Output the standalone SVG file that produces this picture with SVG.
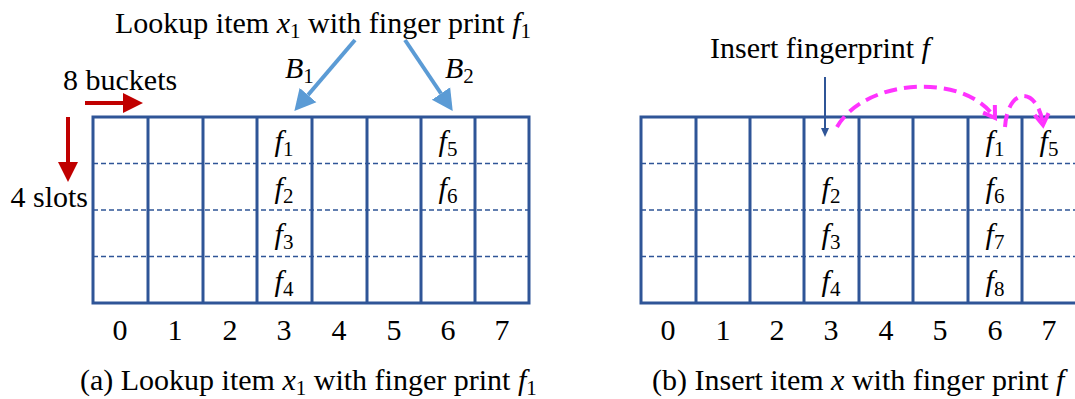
<svg xmlns="http://www.w3.org/2000/svg" width="1075" height="399" viewBox="0 0 1075 399">
<style>
  .t { font-family: "Liberation Serif", "Times New Roman", serif; font-size: 30px; fill: #000; }
  .m { font-style: italic; }
  .sub { font-size: 21px; font-style: normal; }
  .lbl { font-family: "Liberation Serif", "Times New Roman", serif; font-size: 30px; fill: #000; text-anchor: middle; }
  .grid { fill: none; stroke: #2F5597; stroke-width: 3; }
  .vl { stroke: #2F5597; stroke-width: 3; }
  .dl { stroke: #2F5597; stroke-width: 1.5; stroke-dasharray: 5 3; }
  .red { fill: #C00000; }
  .lb { stroke: #5B9BD5; stroke-width: 4; fill: none; }
  .mag { stroke: #FF33FF; stroke-width: 4; fill: none; stroke-dasharray: 13 7; }
</style>
<defs>
  <marker id="hLB" markerUnits="userSpaceOnUse" markerWidth="22" markerHeight="24" refX="0" refY="11" orient="auto" viewBox="0 0 22 22">
    <path d="M0,0 L21,11 L0,22 z" fill="#5B9BD5"/>
  </marker>
  <marker id="hMag" markerUnits="userSpaceOnUse" markerWidth="20" markerHeight="20" refX="13" refY="8" orient="auto" viewBox="0 0 20 16">
    <path d="M2,1 L13,8 L2,15" fill="none" stroke="#FF33FF" stroke-width="4" stroke-linejoin="miter"/>
  </marker>
</defs>

<!-- Titles and captions -->
<g id="title-a">
  <text class="t" x="115" y="33">Lookup item <tspan class="m">x</tspan><tspan class="sub" dy="5">1</tspan><tspan dy="-5"> with finger print </tspan><tspan class="m">f</tspan><tspan class="sub" dy="5">1</tspan></text>
</g>
<g id="title-b">
  <text class="t" x="710" y="58">Insert fingerprint <tspan class="m">f</tspan></text>
</g>
<g id="caption-a">
  <text class="t" x="80" y="390">(a) Lookup item <tspan class="m">x</tspan><tspan class="sub" dy="5">1</tspan><tspan dy="-5"> with finger print </tspan><tspan class="m">f</tspan><tspan class="sub" dy="5">1</tspan></text>
</g>
<g id="caption-b">
  <text class="t" x="652" y="390">(b) Insert item <tspan class="m">x</tspan> with finger print <tspan class="m">f</tspan></text>
</g>

<!-- Axis labels -->
<g id="buckets-label">
  <text class="t" x="63" y="90">8 buckets</text>
  <polygon class="red" points="85,101 123,101 123,93 143,103 123,113 123,105 85,105"/>
</g>
<g id="slots-label">
  <text class="t" x="88" y="207" text-anchor="end">4 slots</text>
  <polygon class="red" points="66,117 70,117 70,162 78,162 68,182 58,162 66,162"/>
</g>

<!-- Grid (a) -->
<g id="grid-a">
  <line class="dl" x1="93" y1="163.5" x2="529" y2="163.5"/>
  <line class="dl" x1="93" y1="210" x2="529" y2="210"/>
  <line class="dl" x1="93" y1="256.5" x2="529" y2="256.5"/>
  <line class="vl" x1="148" y1="117" x2="148" y2="303"/>
  <line class="vl" x1="203" y1="117" x2="203" y2="303"/>
  <line class="vl" x1="257" y1="117" x2="257" y2="303"/>
  <line class="vl" x1="312" y1="117" x2="312" y2="303"/>
  <line class="vl" x1="367" y1="117" x2="367" y2="303"/>
  <line class="vl" x1="421" y1="117" x2="421" y2="303"/>
  <line class="vl" x1="475" y1="117" x2="475" y2="303"/>
  <rect class="grid" x="93" y="117" width="436" height="186"/>
  <text class="lbl" x="284" y="151"><tspan class="m">f</tspan><tspan class="sub" dy="5">1</tspan></text>
  <text class="lbl" x="284" y="197.5"><tspan class="m">f</tspan><tspan class="sub" dy="5">2</tspan></text>
  <text class="lbl" x="284" y="244"><tspan class="m">f</tspan><tspan class="sub" dy="5">3</tspan></text>
  <text class="lbl" x="284" y="290.5"><tspan class="m">f</tspan><tspan class="sub" dy="5">4</tspan></text>
  <text class="lbl" x="448" y="151"><tspan class="m">f</tspan><tspan class="sub" dy="5">5</tspan></text>
  <text class="lbl" x="448" y="197.5"><tspan class="m">f</tspan><tspan class="sub" dy="5">6</tspan></text>
  <text class="lbl" x="120" y="340">0</text>
  <text class="lbl" x="175" y="340">1</text>
  <text class="lbl" x="230" y="340">2</text>
  <text class="lbl" x="284" y="340">3</text>
  <text class="lbl" x="339" y="340">4</text>
  <text class="lbl" x="394" y="340">5</text>
  <text class="lbl" x="448" y="340">6</text>
  <text class="lbl" x="502" y="340">7</text>
</g>

<!-- Grid (b) -->
<g id="grid-b">
  <line class="dl" x1="641" y1="163.5" x2="1077" y2="163.5"/>
  <line class="dl" x1="641" y1="210" x2="1077" y2="210"/>
  <line class="dl" x1="641" y1="256.5" x2="1077" y2="256.5"/>
  <line class="vl" x1="696" y1="117" x2="696" y2="303"/>
  <line class="vl" x1="750" y1="117" x2="750" y2="303"/>
  <line class="vl" x1="804" y1="117" x2="804" y2="303"/>
  <line class="vl" x1="859" y1="117" x2="859" y2="303"/>
  <line class="vl" x1="913" y1="117" x2="913" y2="303"/>
  <line class="vl" x1="968" y1="117" x2="968" y2="303"/>
  <line class="vl" x1="1022" y1="117" x2="1022" y2="303"/>
  <rect class="grid" x="641" y="117" width="436" height="186"/>
  <text class="lbl" x="831" y="197.5"><tspan class="m">f</tspan><tspan class="sub" dy="5">2</tspan></text>
  <text class="lbl" x="831" y="244"><tspan class="m">f</tspan><tspan class="sub" dy="5">3</tspan></text>
  <text class="lbl" x="831" y="290.5"><tspan class="m">f</tspan><tspan class="sub" dy="5">4</tspan></text>
  <text class="lbl" x="995" y="151"><tspan class="m">f</tspan><tspan class="sub" dy="5">1</tspan></text>
  <text class="lbl" x="995" y="197.5"><tspan class="m">f</tspan><tspan class="sub" dy="5">6</tspan></text>
  <text class="lbl" x="995" y="244"><tspan class="m">f</tspan><tspan class="sub" dy="5">7</tspan></text>
  <text class="lbl" x="995" y="290.5"><tspan class="m">f</tspan><tspan class="sub" dy="5">8</tspan></text>
  <text class="lbl" x="1049" y="151"><tspan class="m">f</tspan><tspan class="sub" dy="5">5</tspan></text>
  <text class="lbl" x="668" y="340">0</text>
  <text class="lbl" x="723" y="340">1</text>
  <text class="lbl" x="777" y="340">2</text>
  <text class="lbl" x="831" y="340">3</text>
  <text class="lbl" x="886" y="340">4</text>
  <text class="lbl" x="940" y="340">5</text>
  <text class="lbl" x="995" y="340">6</text>
  <text class="lbl" x="1049" y="340">7</text>
</g>

<!-- Connectors -->
<g id="connectors">
  <line class="lb" x1="355" y1="40" x2="308" y2="95" marker-end="url(#hLB)"/>
  <line class="lb" x1="405" y1="40" x2="441" y2="93.5" marker-end="url(#hLB)"/>
  <text class="t" x="285" y="78"><tspan class="m">B</tspan><tspan class="sub" dy="5">1</tspan></text>
  <text class="t" x="445" y="78"><tspan class="m">B</tspan><tspan class="sub" dy="5">2</tspan></text>
  <line x1="825" y1="77" x2="825" y2="129" stroke="#2F5597" stroke-width="2"/>
  <polygon points="821,128 829,128 825,137" fill="#2F5597"/>
  <path class="mag" d="M837,127 C865,78 965,72 995,118" marker-end="url(#hMag)"/>
  <path class="mag" d="M1005,127 C1008,86 1038,86 1043,125" marker-end="url(#hMag)"/>
</g>
</svg>
